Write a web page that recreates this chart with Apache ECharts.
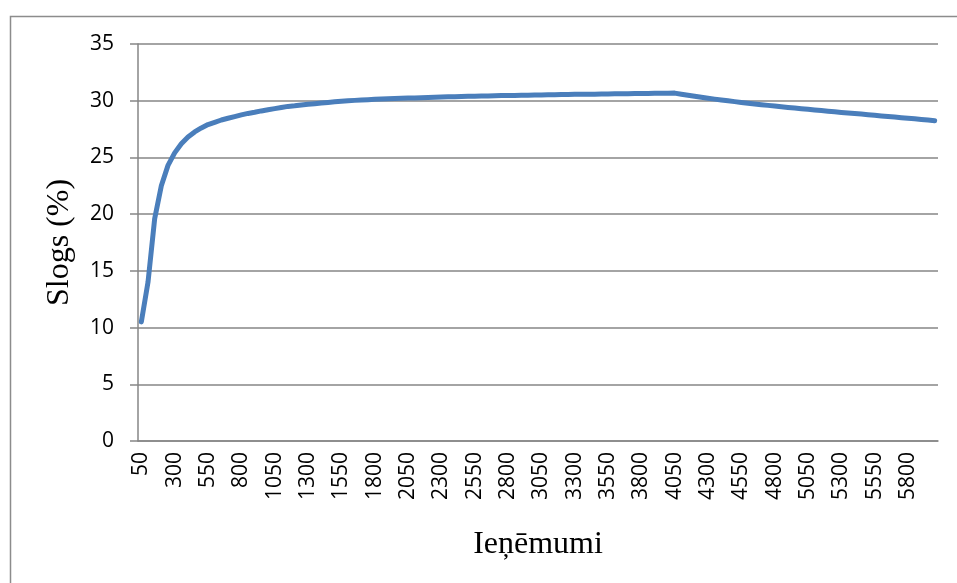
<!DOCTYPE html>
<html>
<head>
<meta charset="utf-8">
<script src="https://cdn.jsdelivr.net/npm/echarts@6/dist/echarts.min.js"></script>
<style>html,body{margin:0;padding:0;background:#fff;}#c{width:957px;height:583px;}</style>
</head>
<body>
<div id="c"></div>
<script>
// Categories: income values 50..6000 step 50 (tick labels shown every 5th: 50, 300, 550, ... 5800)
const categories = [
  50,100,150,200,250,300,350,400,450,500,
  550,600,650,700,750,800,850,900,950,1000,
  1050,1100,1150,1200,1250,1300,1350,1400,1450,1500,
  1550,1600,1650,1700,1750,1800,1850,1900,1950,2000,
  2050,2100,2150,2200,2250,2300,2350,2400,2450,2500,
  2550,2600,2650,2700,2750,2800,2850,2900,2950,3000,
  3050,3100,3150,3200,3250,3300,3350,3400,3450,3500,
  3550,3600,3650,3700,3750,3800,3850,3900,3950,4000,
  4050,4100,4150,4200,4250,4300,4350,4400,4450,4500,
  4550,4600,4650,4700,4750,4800,4850,4900,4950,5000,
  5050,5100,5150,5200,5250,5300,5350,5400,5450,5500,
  5550,5600,5650,5700,5750,5800,5850,5900,5950,6000
];
const slogs = [
  10.5,14.0,19.6,22.5,24.3,25.4,26.2,26.8,27.25,27.6,
  27.9,28.1,28.3,28.45,28.6,28.75,28.88,28.98,29.1,29.2,
  29.3,29.4,29.5,29.55,29.62,29.68,29.74,29.8,29.85,29.9,
  29.95,29.99,30.03,30.06,30.09,30.12,30.15,30.17,30.19,30.21,
  30.23,30.25,30.27,30.29,30.31,30.33,30.34,30.36,30.37,30.39,
  30.4,30.41,30.42,30.44,30.45,30.46,30.47,30.48,30.49,30.5,
  30.51,30.52,30.53,30.54,30.55,30.56,30.57,30.57,30.58,30.59,
  30.6,30.61,30.61,30.62,30.63,30.63,30.64,30.65,30.65,30.66,
  30.67,30.57,30.48,30.39,30.30,30.22,30.14,30.06,29.99,29.92,
  29.85,29.78,29.72,29.65,29.59,29.53,29.47,29.41,29.35,29.29,
  29.24,29.18,29.13,29.07,29.02,28.97,28.92,28.87,28.82,28.77,
  28.72,28.66,28.61,28.56,28.50,28.45,28.40,28.34,28.29,28.23
];
const yTicks = { min: 0, max: 35, interval: 5 };
const xName = 'Ieņēmumi';
const yName = 'Slogs (%)';

const chart = echarts.init(document.getElementById('c'), null, { renderer: 'canvas' });
const gray = '#868686';
chart.setOption({
  animation: false,
  backgroundColor: '#ffffff',
  graphic: [{
    type: 'rect', left: 8, top: 14, z: -1,
    shape: { width: 1000, height: 1000 },
    style: { fill: 'none', stroke: '#8c8c8c', lineWidth: 1.5 }
  }],
  grid: { left: 138, right: 19, top: 44, bottom: 142, containLabel: false },
  xAxis: {
    type: 'category',
    data: categories.map(String),
    boundaryGap: true,
    name: xName,
    nameLocation: 'middle',
    nameGap: 88,
    nameTextStyle: { fontFamily: 'Liberation Serif', fontSize: 32, color: '#000' },
    axisLine: { lineStyle: { color: gray, width: 1.5 } },
    axisTick: { show: false },
    axisLabel: {
      interval: 4, rotate: 90, margin: 11,
      fontFamily: 'Open Sans', fontSize: 21, color: '#000'
    },
    splitLine: { show: false }
  },
  yAxis: {
    type: 'value',
    min: yTicks.min, max: yTicks.max, interval: yTicks.interval,
    name: yName,
    nameLocation: 'middle',
    nameGap: 62,
    nameTextStyle: { fontFamily: 'Liberation Serif', fontSize: 32, color: '#000' },
    axisLine: { show: true, lineStyle: { color: gray, width: 1.5 } },
    axisTick: { show: true, length: 8, lineStyle: { color: gray, width: 1.5 } },
    axisLabel: { margin: 24, fontFamily: 'Open Sans', fontSize: 21, color: '#000' },
    splitLine: { show: true, lineStyle: { color: gray, width: 1.5 } }
  },
  series: [{
    type: 'line',
    data: slogs,
    showSymbol: false,
    smooth: false,
    lineStyle: { color: '#4a7ebb', width: 5, cap: 'round', join: 'round' },
    itemStyle: { color: '#4a7ebb' }
  }]
});
</script>
</body>
</html>
